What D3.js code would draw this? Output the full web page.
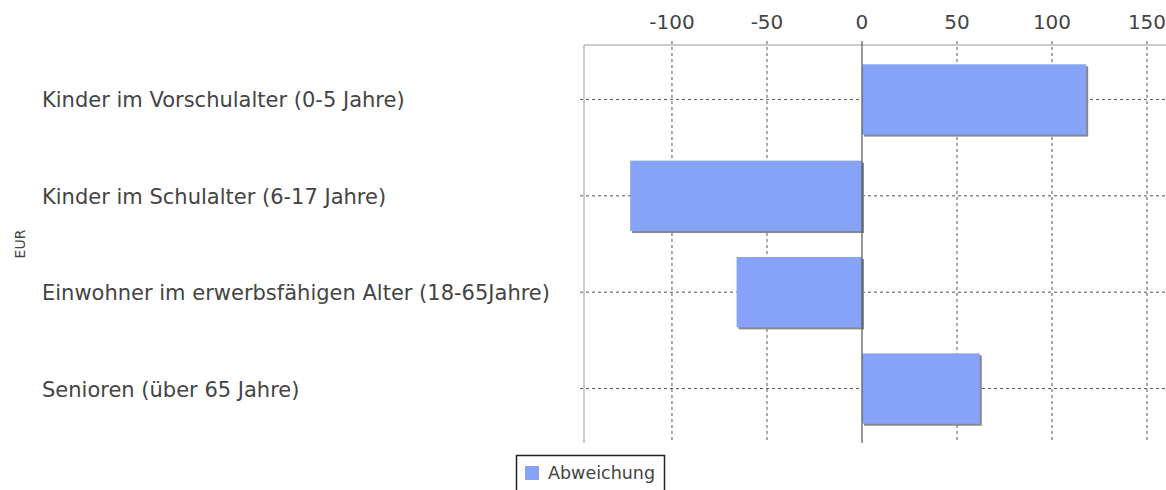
<!DOCTYPE html>
<html><head><meta charset="utf-8">
<script src="https://cdn.jsdelivr.net/npm/d3@7"></script>
<style>body{margin:0;background:#fff;} svg{display:block;}</style>
</head><body>
<svg id="chart" width="1166" height="490"></svg>
<script>
const categories = ["Kinder im Vorschulalter (0-5 Jahre)", "Kinder im Schulalter (6-17 Jahre)", "Einwohner im erwerbsfähigen Alter (18-65Jahre)", "Senioren (über 65 Jahre)"];
const values = [118, -122, -66, 62];
const xTicks = [-100, -50, 0, 50, 100, 150];
const seriesName = "Abweichung";
const yAxisTitle = "EUR";

const svg = d3.select("#chart");
const font = "'DejaVu Sans', Verdana, sans-serif";
const pLeft = 584, pRight = 1166, pTop = 45, pBottom = 443;
const x = d3.scaleLinear().domain([-146.3, 160]).range([pLeft, pRight]);
const y = d3.scaleBand().domain(categories).range([pTop, pBottom]).paddingInner(0.27).paddingOuter(0.2);

// frame
svg.append("line").attr("x1", pLeft).attr("x2", pRight).attr("y1", pTop).attr("y2", pTop).attr("stroke", "#bbb").attr("stroke-width", 1.5);
svg.append("line").attr("x1", pLeft).attr("x2", pLeft).attr("y1", pTop).attr("y2", pBottom).attr("stroke", "#bbb").attr("stroke-width", 1.5);

// vertical grid
svg.selectAll(".vg").data(xTicks.filter(d => d !== 0)).enter().append("line")
  .attr("x1", d => x(d)).attr("x2", d => x(d)).attr("y1", pTop - 4).attr("y2", pBottom)
  .attr("stroke", "#555").attr("stroke-dasharray", "3,3");
// horizontal grid
svg.selectAll(".hg").data(categories).enter().append("line")
  .attr("x1", pLeft - 4).attr("x2", pRight).attr("y1", d => y(d) + y.bandwidth() / 2).attr("y2", d => y(d) + y.bandwidth() / 2)
  .attr("stroke", "#555").attr("stroke-dasharray", "3,3");

// x tick labels
svg.selectAll(".xt").data(xTicks).enter().append("text")
  .attr("x", d => x(d)).attr("y", 29).attr("text-anchor", "middle")
  .attr("font-family", font).attr("font-size", 20).attr("fill", "#444").text(d => d);

// bars shadow
const shadow = svg.append("g");
shadow.selectAll("rect").data(values).enter().append("rect")
  .attr("x", d => Math.min(x(0), x(d)) + 2).attr("y", (d, i) => y(categories[i]) + 2)
  .attr("width", d => Math.abs(x(d) - x(0))).attr("height", y.bandwidth())
  .attr("fill", "#888");
svg.selectAll(".bar").data(values).enter().append("rect")
  .attr("x", d => Math.min(x(0), x(d))).attr("y", (d, i) => y(categories[i]))
  .attr("width", d => Math.abs(x(d) - x(0))).attr("height", y.bandwidth())
  .attr("fill", "#87a3f8");

// zero line
svg.append("line").attr("x1", x(0)).attr("x2", x(0)).attr("y1", pTop - 4).attr("y2", pBottom).attr("stroke", "#555").attr("stroke-width", 1.2);

// category labels
svg.selectAll(".cl").data(categories).enter().append("text")
  .attr("x", 42).attr("y", d => y(d) + y.bandwidth() / 2 + 8)
  .attr("font-family", font).attr("font-size", 21).attr("fill", "#444").text(d => d);

// y title
svg.append("text").attr("transform", "translate(25,244) rotate(-90)").attr("text-anchor", "middle")
  .attr("font-family", font).attr("font-size", 14).attr("fill", "#444").text(yAxisTitle);

// legend
const lg = svg.append("g").attr("transform", "translate(516,455)");
lg.append("rect").attr("x", 0.5).attr("y", 0.5).attr("width", 148).attr("height", 40).attr("fill", "#fff").attr("stroke", "#222").attr("stroke-width", 1.5);
lg.append("rect").attr("x", 9).attr("y", 11).attr("width", 14).attr("height", 14).attr("fill", "#87a3f8");
lg.append("text").attr("x", 32).attr("y", 24).attr("font-family", font).attr("font-size", 17.5).attr("fill", "#444").text(seriesName);
</script>
</body></html>
